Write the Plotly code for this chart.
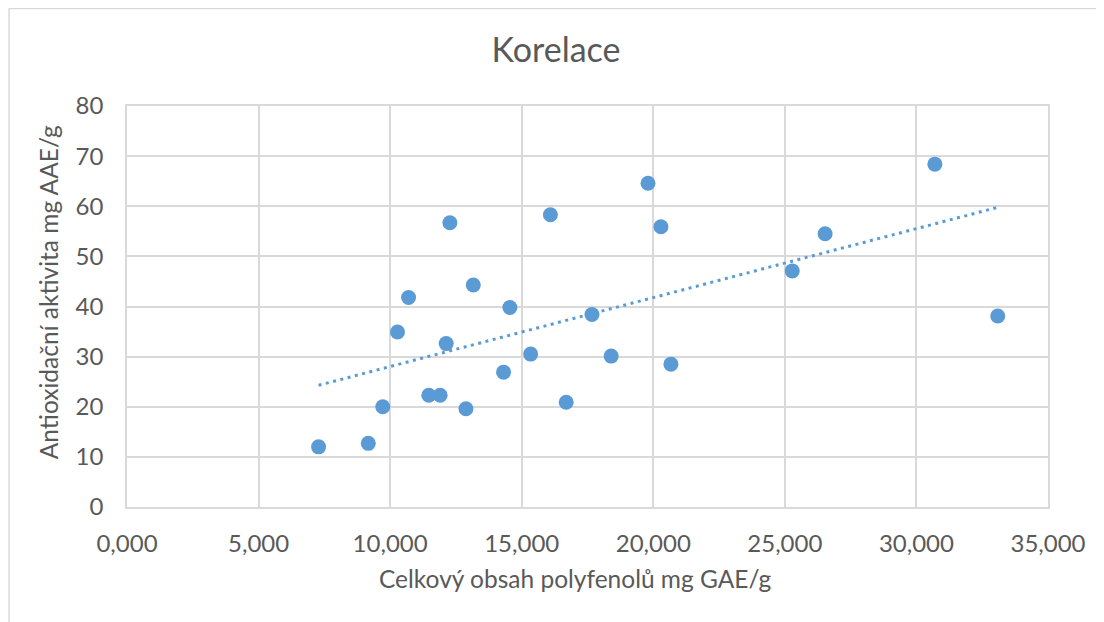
import numpy as np
import plotly.graph_objects as go

# Data
polyphenols = [7.28, 9.17, 9.72, 10.28, 10.70, 11.47, 11.90, 12.13, 12.27, 12.88,
               13.16, 14.31, 14.55, 15.34, 16.09, 16.69, 17.67, 18.40, 19.80, 20.29,
               20.67, 25.28, 26.53, 30.70, 33.09]
antioxidant = [12.0, 12.7, 20.0, 34.9, 41.8, 22.3, 22.3, 32.6, 56.7, 19.6,
               44.3, 26.9, 39.8, 30.5, 58.3, 20.9, 38.4, 30.1, 64.6, 55.9,
               28.5, 47.1, 54.5, 68.4, 38.1]

title_text = "Korelace"
x_title = "Celkový obsah polyfenolů mg GAE/g"
y_title = "Antioxidační aktivita mg AAE/g"

blue = "#5B9BD5"
grey_text = "#595959"
grid = "#D9D9D9"
font_family = "Lato, 'Open Sans', sans-serif"

# Linear trendline (least squares fit of the data)
slope, intercept = np.polyfit(polyphenols, antioxidant, 1)
tx = np.array([min(polyphenols), max(polyphenols)])
ty = slope * tx + intercept

fig = go.Figure()
fig.add_trace(go.Scatter(
    x=tx, y=ty, mode="lines",
    line=dict(color=blue, width=3, dash="3px,4.5px"),
    hoverinfo="skip", showlegend=False,
))
fig.add_trace(go.Scatter(
    x=polyphenols, y=antioxidant, mode="markers",
    marker=dict(color=blue, size=15, line=dict(width=0)),
    showlegend=False,
))

fig.update_layout(
    width=1096, height=614,
    paper_bgcolor="white", plot_bgcolor="white",
    margin=dict(l=119, r=56, t=98, b=115),
    separators=", ",
    font=dict(family=font_family, color=grey_text),
    title=dict(text=title_text, x=0.5, xanchor="center", y=0.9316, yanchor="middle",
               font=dict(size=34, color=grey_text, family=font_family)),
    xaxis=dict(
        range=[0, 35], dtick=5, tick0=0, tickformat=".3f",
        showgrid=True, gridcolor=grid, gridwidth=1.5,
        showline=True, linecolor=grid, linewidth=1.5, mirror=True,
        zeroline=False, ticks="", ticklen=0, ticklabelstandoff=14,
        tickfont=dict(size=24, color=grey_text),
    ),
    yaxis=dict(
        range=[0, 80], dtick=10, tick0=0,
        showgrid=True, gridcolor=grid, gridwidth=1.5,
        showline=True, linecolor=grid, linewidth=1.5, mirror=True,
        zeroline=False, ticks="", ticklen=0, ticklabelstandoff=17,
        tickfont=dict(size=24, color=grey_text),
    ),
    annotations=[
        dict(text=x_title, xref="paper", yref="paper", x=0.487, y=-0.178,
             xanchor="center", yanchor="middle", showarrow=False,
             font=dict(size=24.5, color=grey_text, family=font_family)),
        dict(text=y_title, xref="paper", yref="paper", x=-0.085, y=0.535,
             xanchor="center", yanchor="middle", showarrow=False, textangle=-90,
             font=dict(size=24.5, color=grey_text, family=font_family)),
    ],
)

# Chart-area border (extends beyond the visible frame on the right and bottom)
fig.add_shape(type="rect", xref="paper", yref="paper",
              x0=-0.128, x1=1.2, y0=-0.5, y1=1.243,
              line=dict(color=grid, width=1.5), fillcolor="rgba(0,0,0,0)", layer="below")

fig.write_html("out.html")
